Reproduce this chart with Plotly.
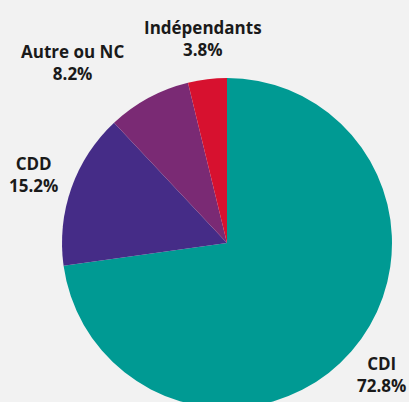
import plotly.graph_objects as go

labels = ["CDI", "CDD", "Autre ou NC", "Indépendants"]
values = [72.8, 15.2, 8.2, 3.8]
colors = ["#009a93", "#452c87", "#7a2a74", "#d7112f"]

# label centre positions (pixels from top-left of the 409x402 view)
label_x = [381, 33, 72, 203]
label_y = [374, 174, 62, 38]

W, H = 409, 420
fig = go.Figure(go.Pie(
    labels=labels,
    values=values,
    sort=False,
    direction="clockwise",
    rotation=0,
    marker=dict(colors=colors, line=dict(width=0)),
    textinfo="none",
    hoverinfo="label+percent",
    domain=dict(x=[62 / W, 392 / W], y=[(H - 408) / H, (H - 78) / H]),
    showlegend=False,
))
total = sum(values)
for lab, val, lx, ly in zip(labels, values, label_x, label_y):
    fig.add_annotation(
        x=lx / W, y=(H - ly) / H, xref="paper", yref="paper",
        xanchor="center", yanchor="middle",
        text=f"{lab}<br>{val / total * 100:.1f}%",
        showarrow=False,
        font=dict(family="Open Sans", size=17, color="#1a1a1a", weight=700),
    )
fig.update_layout(
    width=W, height=H,
    margin=dict(l=0, r=0, t=0, b=0),
    paper_bgcolor="#f2f2f2",
    plot_bgcolor="#f2f2f2",
)
fig.write_html(
    "out.html",
    config={"displayModeBar": False},
    post_script=(
        "document.body.style.margin='0';"
        "document.body.style.overflow='hidden';"
        "document.documentElement.style.overflow='hidden';"
    ),
)
